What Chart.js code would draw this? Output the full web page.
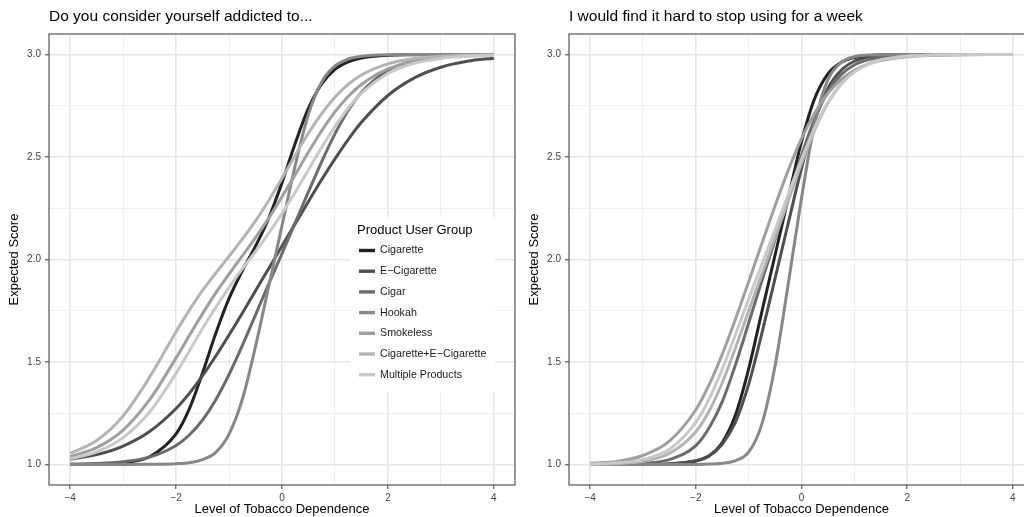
<!DOCTYPE html>
<html>
<head>
<meta charset="utf-8">
<script src="https://cdn.jsdelivr.net/npm/chart.js@4.4.1/dist/chart.umd.min.js"></script>
<style>
html, body { margin: 0; padding: 0; background: #fff; }
body { width: 1024px; height: 517px; overflow: hidden; position: relative; }
#addicted { position: absolute; left: 0; top: 0; }
#week { position: absolute; left: 520px; top: 0; }
</style>
</head>
<body>
<canvas id="addicted" width="518" height="517"></canvas>
<canvas id="week" width="517" height="517"></canvas>
<script>
// x positions the curves were read at (level of tobacco dependence)
const xs = [-4, -3.5, -3, -2.5, -2, -1.75, -1.5, -1.25, -1, -0.75, -0.5, -0.25, 0, 0.25, 0.5, 0.75, 1, 1.25, 1.5, 2, 2.5, 3, 3.5, 4];

const groups = ['Cigarette', 'E\u2212Cigarette', 'Cigar', 'Hookah', 'Smokeless', 'Cigarette+E\u2212Cigarette', 'Multiple Products'];
const greys = ['#222222', '#4f4f4f', '#6b6b6b', '#878787', '#9f9f9f', '#b3b3b3', '#c8c8c8'];

const xBreaks = [-4, -2, 0, 2, 4];
const xMinor = [-3, -1, 1, 3];
const yBreaks = [1.0, 1.5, 2.0, 2.5, 3.0];
const yMinor = [1.25, 1.75, 2.25, 2.75];

// "Do you consider yourself addicted to..."
const addictedCig = [1.0, 1.002, 1.009, 1.038, 1.149, 1.271, 1.447, 1.64, 1.81, 1.945, 2.065, 2.202, 2.375, 2.567, 2.738, 2.856, 2.927, 2.964, 2.983, 2.996, 2.999, 3.0, 3.0, 3.0];
const addictedEcig = [1.026, 1.048, 1.09, 1.161, 1.273, 1.347, 1.433, 1.529, 1.632, 1.738, 1.848, 1.956, 2.066, 2.175, 2.283, 2.39, 2.491, 2.585, 2.669, 2.80, 2.886, 2.938, 2.967, 2.982];
const addictedCigar = [1.002, 1.005, 1.014, 1.036, 1.093, 1.144, 1.217, 1.316, 1.439, 1.58, 1.73, 1.881, 2.029, 2.18, 2.331, 2.478, 2.613, 2.727, 2.815, 2.923, 2.97, 2.988, 2.995, 2.998];
const addictedHookah = [1.0, 1.0, 1.0, 1.001, 1.004, 1.009, 1.024, 1.059, 1.148, 1.317, 1.576, 1.87, 2.165, 2.459, 2.709, 2.866, 2.944, 2.978, 2.991, 2.999, 3.0, 3.0, 3.0, 3.0];
const addictedSmokeless = [1.038, 1.082, 1.168, 1.316, 1.52, 1.629, 1.736, 1.837, 1.929, 2.018, 2.107, 2.202, 2.306, 2.414, 2.524, 2.628, 2.72, 2.795, 2.854, 2.93, 2.967, 2.985, 2.994, 2.997];
const addictedDual = [1.054, 1.117, 1.237, 1.426, 1.648, 1.753, 1.849, 1.934, 2.016, 2.099, 2.188, 2.288, 2.396, 2.508, 2.617, 2.712, 2.792, 2.854, 2.90, 2.954, 2.98, 2.991, 2.996, 2.998];
const addictedMulti = [1.028, 1.062, 1.131, 1.256, 1.445, 1.554, 1.663, 1.767, 1.864, 1.954, 2.039, 2.129, 2.225, 2.328, 2.438, 2.547, 2.648, 2.738, 2.81, 2.907, 2.957, 2.981, 2.991, 2.996];

// "I would find it hard to stop using for a week"
const weekCig = [1.0, 1.0, 1.0, 1.003, 1.017, 1.042, 1.107, 1.241, 1.466, 1.746, 2.022, 2.30, 2.575, 2.786, 2.906, 2.961, 2.985, 2.994, 2.998, 3.0, 3.0, 3.0, 3.0, 3.0];
const weekEcig = [1.0, 1.0, 1.0, 1.003, 1.018, 1.042, 1.099, 1.207, 1.391, 1.64, 1.908, 2.178, 2.444, 2.675, 2.835, 2.923, 2.967, 2.986, 2.994, 2.999, 3.0, 3.0, 3.0, 3.0];
const weekCigar = [1.0, 1.002, 1.006, 1.024, 1.092, 1.178, 1.307, 1.486, 1.69, 1.896, 2.096, 2.301, 2.507, 2.686, 2.818, 2.902, 2.949, 2.974, 2.987, 2.997, 2.999, 3.0, 3.0, 3.0];
const weekHookah = [1.0, 1.0, 1.0, 1.0, 1.0, 1.002, 1.006, 1.019, 1.06, 1.197, 1.482, 1.883, 2.299, 2.664, 2.877, 2.961, 2.989, 2.997, 2.999, 3.0, 3.0, 3.0, 3.0, 3.0];
const weekSmokeless = [1.006, 1.015, 1.044, 1.114, 1.267, 1.388, 1.538, 1.709, 1.892, 2.078, 2.262, 2.436, 2.59, 2.715, 2.811, 2.878, 2.923, 2.952, 2.97, 2.989, 2.996, 2.999, 3.0, 3.0];
const weekDual = [1.001, 1.005, 1.016, 1.054, 1.16, 1.26, 1.399, 1.568, 1.749, 1.929, 2.107, 2.287, 2.468, 2.632, 2.763, 2.856, 2.916, 2.953, 2.974, 2.992, 2.997, 2.999, 3.0, 3.0];
const weekMulti = [1.002, 1.008, 1.024, 1.074, 1.205, 1.318, 1.465, 1.634, 1.807, 1.977, 2.145, 2.318, 2.489, 2.643, 2.767, 2.856, 2.914, 2.95, 2.973, 2.991, 2.997, 2.999, 3.0, 3.0];

const FONT = "'Liberation Sans', Arial, Helvetica, sans-serif";
Chart.defaults.font.family = FONT;
Chart.defaults.color = '#4d4d4d';

const has = (list, v) => list.some(t => Math.abs(t - v) < 1e-9);
const minus = s => s.replace('-', '\u2212');

// panel border, panel title and (optionally) the legend box
const panelDecor = {
  id: 'panelDecor',
  afterDraw(chart, args, opts) {
    const ctx = chart.ctx, a = chart.chartArea;
    ctx.save();
    ctx.strokeStyle = '#555';
    ctx.lineWidth = 1.2;
    ctx.strokeRect(a.left, a.top, a.right - a.left, a.bottom - a.top);

    ctx.fillStyle = '#000';
    ctx.textAlign = 'left';
    ctx.textBaseline = 'middle';
    ctx.font = '15.5px ' + FONT;
    ctx.fillText(opts.title, a.left, 17);

    if (opts.legend) {
      const bx = a.right - 165, by = a.top + 183;
      ctx.fillStyle = '#fff';
      ctx.fillRect(bx, by, 145, 175);
      ctx.fillStyle = '#000';
      ctx.font = '13px ' + FONT;
      ctx.fillText('Product User Group', bx + 7, by + 13.5);
      ctx.font = '10.7px ' + FONT;
      groups.forEach((g, i) => {
        const yy = by + 33.5 + i * 20.7;
        ctx.strokeStyle = greys[i];
        ctx.lineWidth = 3.4;
        ctx.beginPath();
        ctx.moveTo(bx + 9, yy);
        ctx.lineTo(bx + 25, yy);
        ctx.stroke();
        ctx.fillStyle = '#1a1a1a';
        ctx.fillText(g, bx + 30, yy);
      });
    }
    ctx.restore();
  }
};

function gridStyle(major) {
  return {
    drawTicks: true,
    tickLength: 4,
    color: c => has(major, c.tick.value) ? '#e6e6e6' : '#efefef',
    lineWidth: c => has(major, c.tick.value) ? 1.6 : 1,
    tickColor: c => has(major, c.tick.value) ? '#333' : 'rgba(0,0,0,0)',
    tickWidth: 1
  };
}

function makeChart(id, title, rows, legend) {
  const datasets = rows.map((vals, i) => ({
    label: groups[i],
    data: xs.map((x, j) => ({ x: x, y: vals[j] })),
    borderColor: greys[i],
    backgroundColor: greys[i],
    borderWidth: 3,
    pointRadius: 0,
    cubicInterpolationMode: 'monotone',
    fill: false,
    order: rows.length - 1 - i
  }));

  return new Chart(document.getElementById(id), {
    type: 'line',
    data: { datasets: datasets },
    options: {
      responsive: false,
      animation: false,
      devicePixelRatio: 1,
      layout: { padding: { top: 34, right: 3, left: 0, bottom: 0 } },
      scales: {
        x: {
          type: 'linear',
          min: -4.4,
          max: 4.4,
          afterBuildTicks: s => { s.ticks = xBreaks.concat(xMinor).sort((p, q) => p - q).map(v => ({ value: v })); },
          afterFit: s => { s.height = 32; },
          ticks: {
            autoSkip: false,
            maxRotation: 0,
            padding: 3,
            color: '#444',
            font: { size: 10 },
            callback: v => has(xBreaks, v) ? minus(String(v)) : ''
          },
          grid: gridStyle(xBreaks),
          border: { display: false },
          title: {
            display: true,
            text: 'Level of Tobacco Dependence',
            color: '#000',
            font: { size: 13 },
            padding: { top: 0, bottom: 0 }
          }
        },
        y: {
          min: 0.9,
          max: 3.1,
          afterBuildTicks: s => { s.ticks = yBreaks.concat(yMinor).sort((p, q) => p - q).map(v => ({ value: v })); },
          afterFit: s => { s.width = 49; },
          ticks: {
            autoSkip: false,
            padding: 4,
            color: '#444',
            font: { size: 10 },
            callback: v => has(yBreaks, v) ? v.toFixed(1) : ''
          },
          grid: gridStyle(yBreaks),
          border: { display: false },
          title: {
            display: true,
            text: 'Expected Score',
            color: '#000',
            font: { size: 13 },
            padding: { top: 7, bottom: 0 }
          }
        }
      },
      plugins: {
        legend: { display: false },
        tooltip: { enabled: false },
        panelDecor: { title: title, legend: legend }
      }
    },
    plugins: [panelDecor]
  });
}

makeChart('addicted', 'Do you consider yourself addicted to...',
  [addictedCig, addictedEcig, addictedCigar, addictedHookah, addictedSmokeless, addictedDual, addictedMulti], true);

makeChart('week', 'I would find it hard to stop using for a week',
  [weekCig, weekEcig, weekCigar, weekHookah, weekSmokeless, weekDual, weekMulti], false);
</script>
</body>
</html>
